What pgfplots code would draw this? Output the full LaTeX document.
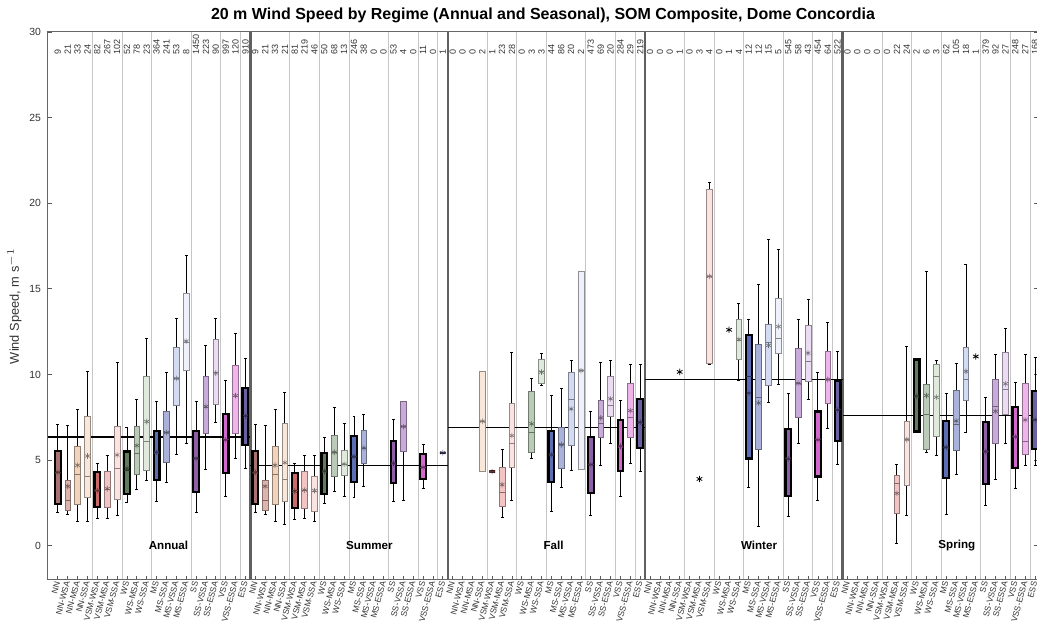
\documentclass[border=0pt]{standalone}
\usepackage{fontspec}
\setmainfont{Liberation Sans}
\usepackage{pgfplots}
\pgfplotsset{compat=1.18}
\usepgfplotslibrary{statistics}

\definecolor{c0}{HTML}{A87272}
\definecolor{c1}{HTML}{DDB5AE}
\definecolor{c2}{HTML}{F2D3BC}
\definecolor{c3}{HTML}{F9E8DA}
\definecolor{c4}{HTML}{CC6A6A}
\definecolor{c5}{HTML}{F2C4C4}
\definecolor{c6}{HTML}{FBE3E1}
\definecolor{c7}{HTML}{5F7D5B}
\definecolor{c8}{HTML}{BACBB7}
\definecolor{c9}{HTML}{DFEADC}
\definecolor{c10}{HTML}{5B6DB3}
\definecolor{c11}{HTML}{AAB2D9}
\definecolor{c12}{HTML}{D3DBF2}
\definecolor{c13}{HTML}{EEF0FA}
\definecolor{c14}{HTML}{8E5FA6}
\definecolor{c15}{HTML}{C9ABDB}
\definecolor{c16}{HTML}{EBDCF3}
\definecolor{c17}{HTML}{D267CC}
\definecolor{c18}{HTML}{F0B4EC}
\definecolor{c19}{HTML}{6C5FA0}

\pgfplotsset{
 dk/.style={boxplot/every box/.style={draw=black, line width=1.1pt, fill=#1},
            boxplot/every median/.style={draw=#1!45!black, line width=0.45pt}},
 lt/.style={boxplot/every box/.style={draw=#1!60!black, line width=0.35pt, fill=#1},
            boxplot/every median/.style={draw=#1!55!black, line width=0.35pt}},
}

% pos, lower whisker, lower quartile, median, upper quartile, upper whisker, mean, style, colour
\newcommand{\bx}[9]{%
\addplot[black, line width=0.45pt, #8=#9, boxplot prepared={draw direction=y, draw position=#1, lower whisker=#2, lower quartile=#3, median=#4, upper quartile=#5, upper whisker=#6, box extend=0.58, whisker extend=0.3}] coordinates {};
\addplot[only marks, mark=asterisk, mark size=1.4pt, mark options={draw=#9!50!black, line width=0.3pt}] coordinates {(#1,#7)};
}

\begin{document}
\begin{tikzpicture}
\begin{axis}[name=ax, scale only axis, width=495pt, height=274pt,
 xmin=0, xmax=100.3, ymin=-2, ymax=30,
 ytick={0,5,...,30},
 xtick={1,...,100},
 xticklabels={NN,NN-WSA,NN-MSA,NN-SSA,VSM-WSA,VSM-MSA,VSM-SSA,WS,WS-MSA,WS-SSA,MS,MS-SSA,MS-VSSA,MS-ESSA,SS,SS-VSSA,SS-ESSA,VSS,VSS-ESSA,ESS,
 NN,NN-WSA,NN-MSA,NN-SSA,VSM-WSA,VSM-MSA,VSM-SSA,WS,WS-MSA,WS-SSA,MS,MS-SSA,MS-VSSA,MS-ESSA,SS,SS-VSSA,SS-ESSA,VSS,VSS-ESSA,ESS,
 NN,NN-WSA,NN-MSA,NN-SSA,VSM-WSA,VSM-MSA,VSM-SSA,WS,WS-MSA,WS-SSA,MS,MS-SSA,MS-VSSA,MS-ESSA,SS,SS-VSSA,SS-ESSA,VSS,VSS-ESSA,ESS,
 NN,NN-WSA,NN-MSA,NN-SSA,VSM-WSA,VSM-MSA,VSM-SSA,WS,WS-MSA,WS-SSA,MS,MS-SSA,MS-VSSA,MS-ESSA,SS,SS-VSSA,SS-ESSA,VSS,VSS-ESSA,ESS,
 NN,NN-WSA,NN-MSA,NN-SSA,VSM-WSA,VSM-MSA,VSM-SSA,WS,WS-MSA,WS-SSA,MS,MS-SSA,MS-VSSA,MS-ESSA,SS,SS-VSSA,SS-ESSA,VSS,VSS-ESSA,ESS},
 xtick pos=left,
 tick align=inside,
 major tick length=2.2pt,
 axis line style={draw=gray!80!black, line width=0.5pt},
 every tick/.style={gray!70!black, line width=0.4pt},
 tick label style={font=\fontsize{5.2}{6}\selectfont, text=black!80},
 xticklabel style={rotate=75, anchor=east, font=\fontsize{4.2}{5}\selectfont, inner sep=0.6pt},
 /pgf/number format/assume math mode=true,
 minor xtick={4.5,7.5,10.5,14.5,17.5,19.5,24.5,27.5,30.5,34.5,37.5,39.5,44.5,47.5,50.5,54.5,57.5,59.5,64.5,67.5,70.5,74.5,77.5,79.5,84.5,87.5,90.5,94.5,97.5,99.5},
 xminorgrids=true, minor grid style={gray!45, line width=0.5pt}, minor tick length=0pt,
 extra x ticks={20.5,40.5,60.5,80.5}, extra x tick labels={},
 extra x tick style={grid=major, major grid style={gray!75!black, line width=1.2pt}, major tick length=0pt},
 title={20 m Wind Speed by Regime (Annual and Seasonal), SOM Composite, Dome Concordia},
 title style={font=\bfseries\fontsize{8}{9.6}\selectfont, yshift=-5pt},
 ylabel={Wind Speed, m s$^{-1}$},
 ylabel style={font=\fontsize{6.4}{7.5}\selectfont, text=black!80},
 ylabel shift=-3pt,
]
% regime mean lines
\addplot[black, line width=0.55pt] coordinates {(0,6.35) (20.5,6.35)};
\addplot[black, line width=0.55pt] coordinates {(20.5,4.7) (40.5,4.7)};
\addplot[black, line width=0.55pt] coordinates {(40.5,6.88) (60.5,6.88)};
\addplot[black, line width=0.55pt] coordinates {(60.5,9.73) (80.5,9.73)};
\addplot[black, line width=0.55pt] coordinates {(80.5,7.6) (100.3,7.6)};

% Annual
\bx{1}{1.97}{2.46}{4.3}{5.54}{7.08}{4.29}{dk}{c0}
\bx{2}{1.81}{2.09}{2.67}{3.82}{7.0}{3.47}{lt}{c1}
\bx{3}{1.40}{2.4}{4.19}{5.81}{7.97}{4.70}{lt}{c2}
\bx{4}{1.42}{2.83}{4.07}{7.56}{10.2}{5.24}{lt}{c3}
\bx{5}{1.58}{2.28}{3.2}{4.29}{4.78}{3.22}{dk}{c4}
\bx{6}{1.58}{2.24}{3.3}{4.33}{5.26}{3.33}{lt}{c5}
\bx{7}{1.78}{2.73}{4.54}{6.96}{10.68}{5.30}{lt}{c6}
\bx{8}{2.52}{3.02}{4.4}{5.5}{6.9}{4.5}{dk}{c7}
\bx{9}{3.26}{4.17}{5.42}{6.98}{8.52}{5.85}{lt}{c8}
\bx{10}{3.8}{4.43}{6.08}{9.88}{12.1}{7.25}{lt}{c9}
\bx{11}{2.59}{3.82}{5.42}{6.69}{8.42}{5.45}{dk}{c10}
\bx{12}{3.72}{4.87}{6.6}{7.84}{10.1}{6.61}{lt}{c11}
\bx{13}{5.32}{8.19}{9.8}{11.56}{13.3}{9.77}{lt}{c12}
\bx{14}{5.95}{10.23}{11.9}{14.72}{16.94}{11.95}{lt}{c13}
\bx{15}{1.93}{3.14}{5.1}{6.69}{8.42}{5.1}{dk}{c14}
\bx{16}{4.48}{6.57}{8.1}{9.9}{11.7}{8.13}{lt}{c15}
\bx{17}{7.19}{8.27}{10.1}{12.03}{13.3}{10.08}{lt}{c16}
\bx{18}{2.87}{4.23}{6.18}{7.7}{9.63}{6.18}{dk}{c17}
\bx{19}{5.09}{6.57}{8.7}{10.56}{12.4}{8.77}{lt}{c18}
\bx{20}{4.54}{5.89}{7.6}{9.2}{10.94}{7.56}{dk}{c19}
% Summer
\bx{21}{1.97}{2.46}{4.3}{5.54}{7.08}{4.29}{dk}{c0}
\bx{22}{1.81}{2.09}{2.67}{3.82}{7.0}{3.47}{lt}{c1}
\bx{23}{1.40}{2.4}{4.19}{5.81}{7.97}{4.70}{lt}{c2}
\bx{24}{1.27}{2.59}{3.9}{7.17}{8.93}{4.85}{lt}{c3}
\bx{25}{1.54}{2.22}{3.2}{4.23}{4.78}{3.18}{dk}{c4}
\bx{26}{1.62}{2.16}{3.25}{4.33}{5.26}{3.25}{lt}{c5}
\bx{27}{1.40}{2.03}{3.2}{4.05}{5.28}{3.22}{lt}{c6}
\bx{28}{2.47}{3.0}{4.35}{5.4}{6.33}{4.35}{dk}{c7}
\bx{29}{3.18}{4.07}{5.46}{6.47}{8.09}{5.46}{lt}{c8}
\bx{30}{2.9}{4.09}{4.77}{5.59}{7.17}{4.77}{lt}{c9}
\bx{31}{2.81}{3.74}{5.2}{6.43}{7.56}{5.2}{dk}{c10}
\bx{32}{3.48}{4.83}{5.71}{6.76}{7.64}{5.71}{lt}{c11}
\bx{35}{2.56}{3.66}{4.81}{6.1}{7.4}{4.81}{dk}{c14}
\bx{36}{2.62}{5.5}{6.96}{8.43}{8.44}{6.96}{lt}{c15}
\bx{38}{3.34}{3.88}{4.58}{5.38}{5.9}{4.58}{dk}{c17}
\bx{40}{5.43}{5.43}{5.43}{5.43}{5.43}{5.43}{dk}{c19}
% Fall
\bx{44}{4.33}{4.33}{7.27}{10.18}{10.18}{7.27}{lt}{c3}
\bx{45}{4.33}{4.33}{4.33}{4.33}{4.33}{4.33}{dk}{c4}
\bx{46}{1.66}{2.28}{3.12}{4.56}{5.63}{3.57}{lt}{c5}
\bx{47}{2.63}{4.58}{5.95}{8.32}{11.27}{6.43}{lt}{c6}
\bx{49}{5.07}{5.46}{6.63}{8.99}{9.77}{7.12}{lt}{c8}
\bx{50}{9.38}{9.51}{10.2}{10.88}{11.23}{10.14}{lt}{c9}
\bx{51}{1.99}{3.74}{5.32}{6.69}{8.79}{5.32}{dk}{c10}
\bx{52}{3.39}{4.54}{5.9}{6.92}{9.2}{5.9}{lt}{c11}
\bx{53}{4.39}{5.89}{8.54}{10.14}{10.82}{7.99}{lt}{c12}
\bx{54}{4.44}{4.44}{10.23}{16.02}{16.02}{10.23}{lt}{c13}
\bx{55}{1.75}{3.06}{4.74}{6.37}{7.82}{4.74}{dk}{c14}
\bx{56}{4.68}{6.32}{7.17}{8.5}{10.7}{7.47}{lt}{c15}
\bx{57}{5.95}{7.53}{8.19}{9.9}{10.8}{8.58}{lt}{c16}
\bx{58}{2.87}{4.37}{5.81}{7.35}{8.48}{5.81}{dk}{c17}
\bx{59}{4.78}{6.33}{7.5}{9.51}{10.57}{7.89}{lt}{c18}
\bx{60}{4.33}{5.71}{7.21}{8.58}{10.57}{7.21}{dk}{c19}
% Winter
\bx{67}{10.58}{10.66}{15.73}{20.82}{21.19}{15.73}{lt}{c6}
\bx{70}{9.65}{10.86}{12.0}{13.2}{14.17}{12.05}{lt}{c9}
\bx{71}{3.41}{5.09}{9.9}{12.3}{13.24}{8.91}{dk}{c10}
\bx{72}{1.15}{5.65}{8.67}{11.74}{15.26}{8.34}{lt}{c11}
\bx{73}{8.34}{9.36}{11.85}{12.94}{17.88}{11.7}{lt}{c12}
\bx{74}{9.42}{11.25}{12.09}{14.43}{17.29}{12.8}{lt}{c13}
\bx{75}{1.73}{2.92}{5.07}{6.82}{8.87}{5.07}{dk}{c14}
\bx{76}{5.98}{7.49}{9.49}{11.54}{13.22}{9.49}{lt}{c15}
\bx{77}{8.56}{9.61}{10.78}{12.87}{14.39}{11.25}{lt}{c16}
\bx{78}{2.63}{4.04}{6.18}{7.84}{10.1}{6.18}{dk}{c17}
\bx{79}{6.82}{8.32}{9.71}{11.33}{13.02}{9.71}{lt}{c18}
\bx{80}{4.74}{6.1}{7.93}{9.61}{11.33}{7.93}{dk}{c19}
% Spring
\bx{86}{0.14}{1.89}{3.67}{4.13}{4.72}{3.06}{lt}{c5}
\bx{87}{1.75}{3.55}{6.2}{7.27}{11.64}{6.2}{lt}{c6}
\bx{88}{6.67}{6.67}{8.73}{10.88}{10.88}{8.73}{dk}{c7}
\bx{89}{5.46}{5.6}{7.7}{9.4}{16.04}{8.77}{lt}{c8}
\bx{90}{5.26}{6.39}{9.9}{10.58}{10.84}{8.67}{lt}{c9}
\bx{91}{1.81}{3.94}{5.75}{7.27}{8.91}{5.75}{dk}{c10}
\bx{92}{4.15}{5.56}{7.11}{9.06}{10.62}{7.29}{lt}{c11}
\bx{93}{6.61}{8.48}{9.73}{11.56}{16.43}{10.18}{lt}{c12}
\bx{95}{2.38}{3.61}{5.5}{7.23}{8.67}{5.5}{dk}{c14}
\bx{96}{3.9}{5.95}{8.13}{9.73}{11.19}{7.85}{lt}{c15}
\bx{97}{5.95}{7.66}{9.16}{11.29}{12.67}{9.46}{lt}{c16}
\bx{98}{3.35}{4.54}{6.37}{8.09}{9.55}{6.37}{dk}{c17}
\bx{99}{4.68}{5.36}{6.08}{9.49}{11.19}{7.35}{lt}{c18}
\bx{100}{4.7}{5.65}{7.35}{9.02}{11.0}{7.35}{dk}{c19}

% isolated observations
\addplot[only marks, mark=asterisk, mark size=1.6pt, black, line width=0.4pt] coordinates {(64,10.15) (66,3.9) (69,12.61) (94,11.05)};

% sample counts
\addplot[draw=none, mark=none, nodes near coords, point meta=explicit symbolic,
  nodes near coords style={rotate=90, anchor=west, font=\fontsize{4.5}{5}\selectfont, text=black!80, inner sep=0pt}]
 coordinates {
 (1,28.65)[9] (2,28.65)[21] (3,28.65)[33] (4,28.65)[24] (5,28.65)[82] (6,28.65)[267] (7,28.65)[102] (8,28.65)[52] (9,28.65)[78] (10,28.65)[23]
 (11,28.65)[364] (12,28.65)[241] (13,28.65)[53] (14,28.65)[8] (15,28.65)[1450] (16,28.65)[223] (17,28.65)[90] (18,28.65)[997] (19,28.65)[120] (20,28.65)[910]
 (21,28.65)[9] (22,28.65)[21] (23,28.65)[33] (24,28.65)[21] (25,28.65)[81] (26,28.65)[219] (27,28.65)[46] (28,28.65)[50] (29,28.65)[68] (30,28.65)[13]
 (31,28.65)[246] (32,28.65)[38] (33,28.65)[0] (34,28.65)[0] (35,28.65)[53] (36,28.65)[4] (37,28.65)[0] (38,28.65)[11] (39,28.65)[0] (40,28.65)[1]
 (41,28.65)[0] (42,28.65)[0] (43,28.65)[0] (44,28.65)[2] (45,28.65)[1] (46,28.65)[23] (47,28.65)[28] (48,28.65)[0] (49,28.65)[3] (50,28.65)[3]
 (51,28.65)[44] (52,28.65)[86] (53,28.65)[20] (54,28.65)[2] (55,28.65)[473] (56,28.65)[69] (57,28.65)[20] (58,28.65)[284] (59,28.65)[29] (60,28.65)[219]
 (61,28.65)[0] (62,28.65)[0] (63,28.65)[0] (64,28.65)[1] (65,28.65)[0] (66,28.65)[3] (67,28.65)[4] (68,28.65)[0] (69,28.65)[1] (70,28.65)[4]
 (71,28.65)[12] (72,28.65)[12] (73,28.65)[15] (74,28.65)[5] (75,28.65)[545] (76,28.65)[58] (77,28.65)[43] (78,28.65)[454] (79,28.65)[64] (80,28.65)[522]
 (81,28.65)[0] (82,28.65)[0] (83,28.65)[0] (84,28.65)[0] (85,28.65)[0] (86,28.65)[22] (87,28.65)[24] (88,28.65)[2] (89,28.65)[6] (90,28.65)[3]
 (91,28.65)[62] (92,28.65)[105] (93,28.65)[18] (94,28.65)[1] (95,28.65)[379] (96,28.65)[92] (97,28.65)[27] (98,28.65)[248] (99,28.65)[27] (100,28.65)[168]
 };

\node[anchor=west, font=\bfseries\fontsize{5.8}{7}\selectfont] at (axis cs:9.5,0) {Annual};
\node[anchor=west, font=\bfseries\fontsize{5.8}{7}\selectfont] at (axis cs:29.5,0) {Summer};
\node[anchor=west, font=\bfseries\fontsize{5.8}{7}\selectfont] at (axis cs:49.5,0) {Fall};
\node[anchor=west, font=\bfseries\fontsize{5.8}{7}\selectfont] at (axis cs:69.5,0) {Winter};
\node[anchor=west, font=\bfseries\fontsize{5.8}{7}\selectfont] at (axis cs:89.5,0) {Spring};
\end{axis}
\pgfresetboundingbox
\path[use as bounding box] ([xshift=-24pt,yshift=-24.5pt]ax.south west) rectangle ([xshift=-0.5pt,yshift=16pt]ax.north east);
\end{tikzpicture}
\end{document}
